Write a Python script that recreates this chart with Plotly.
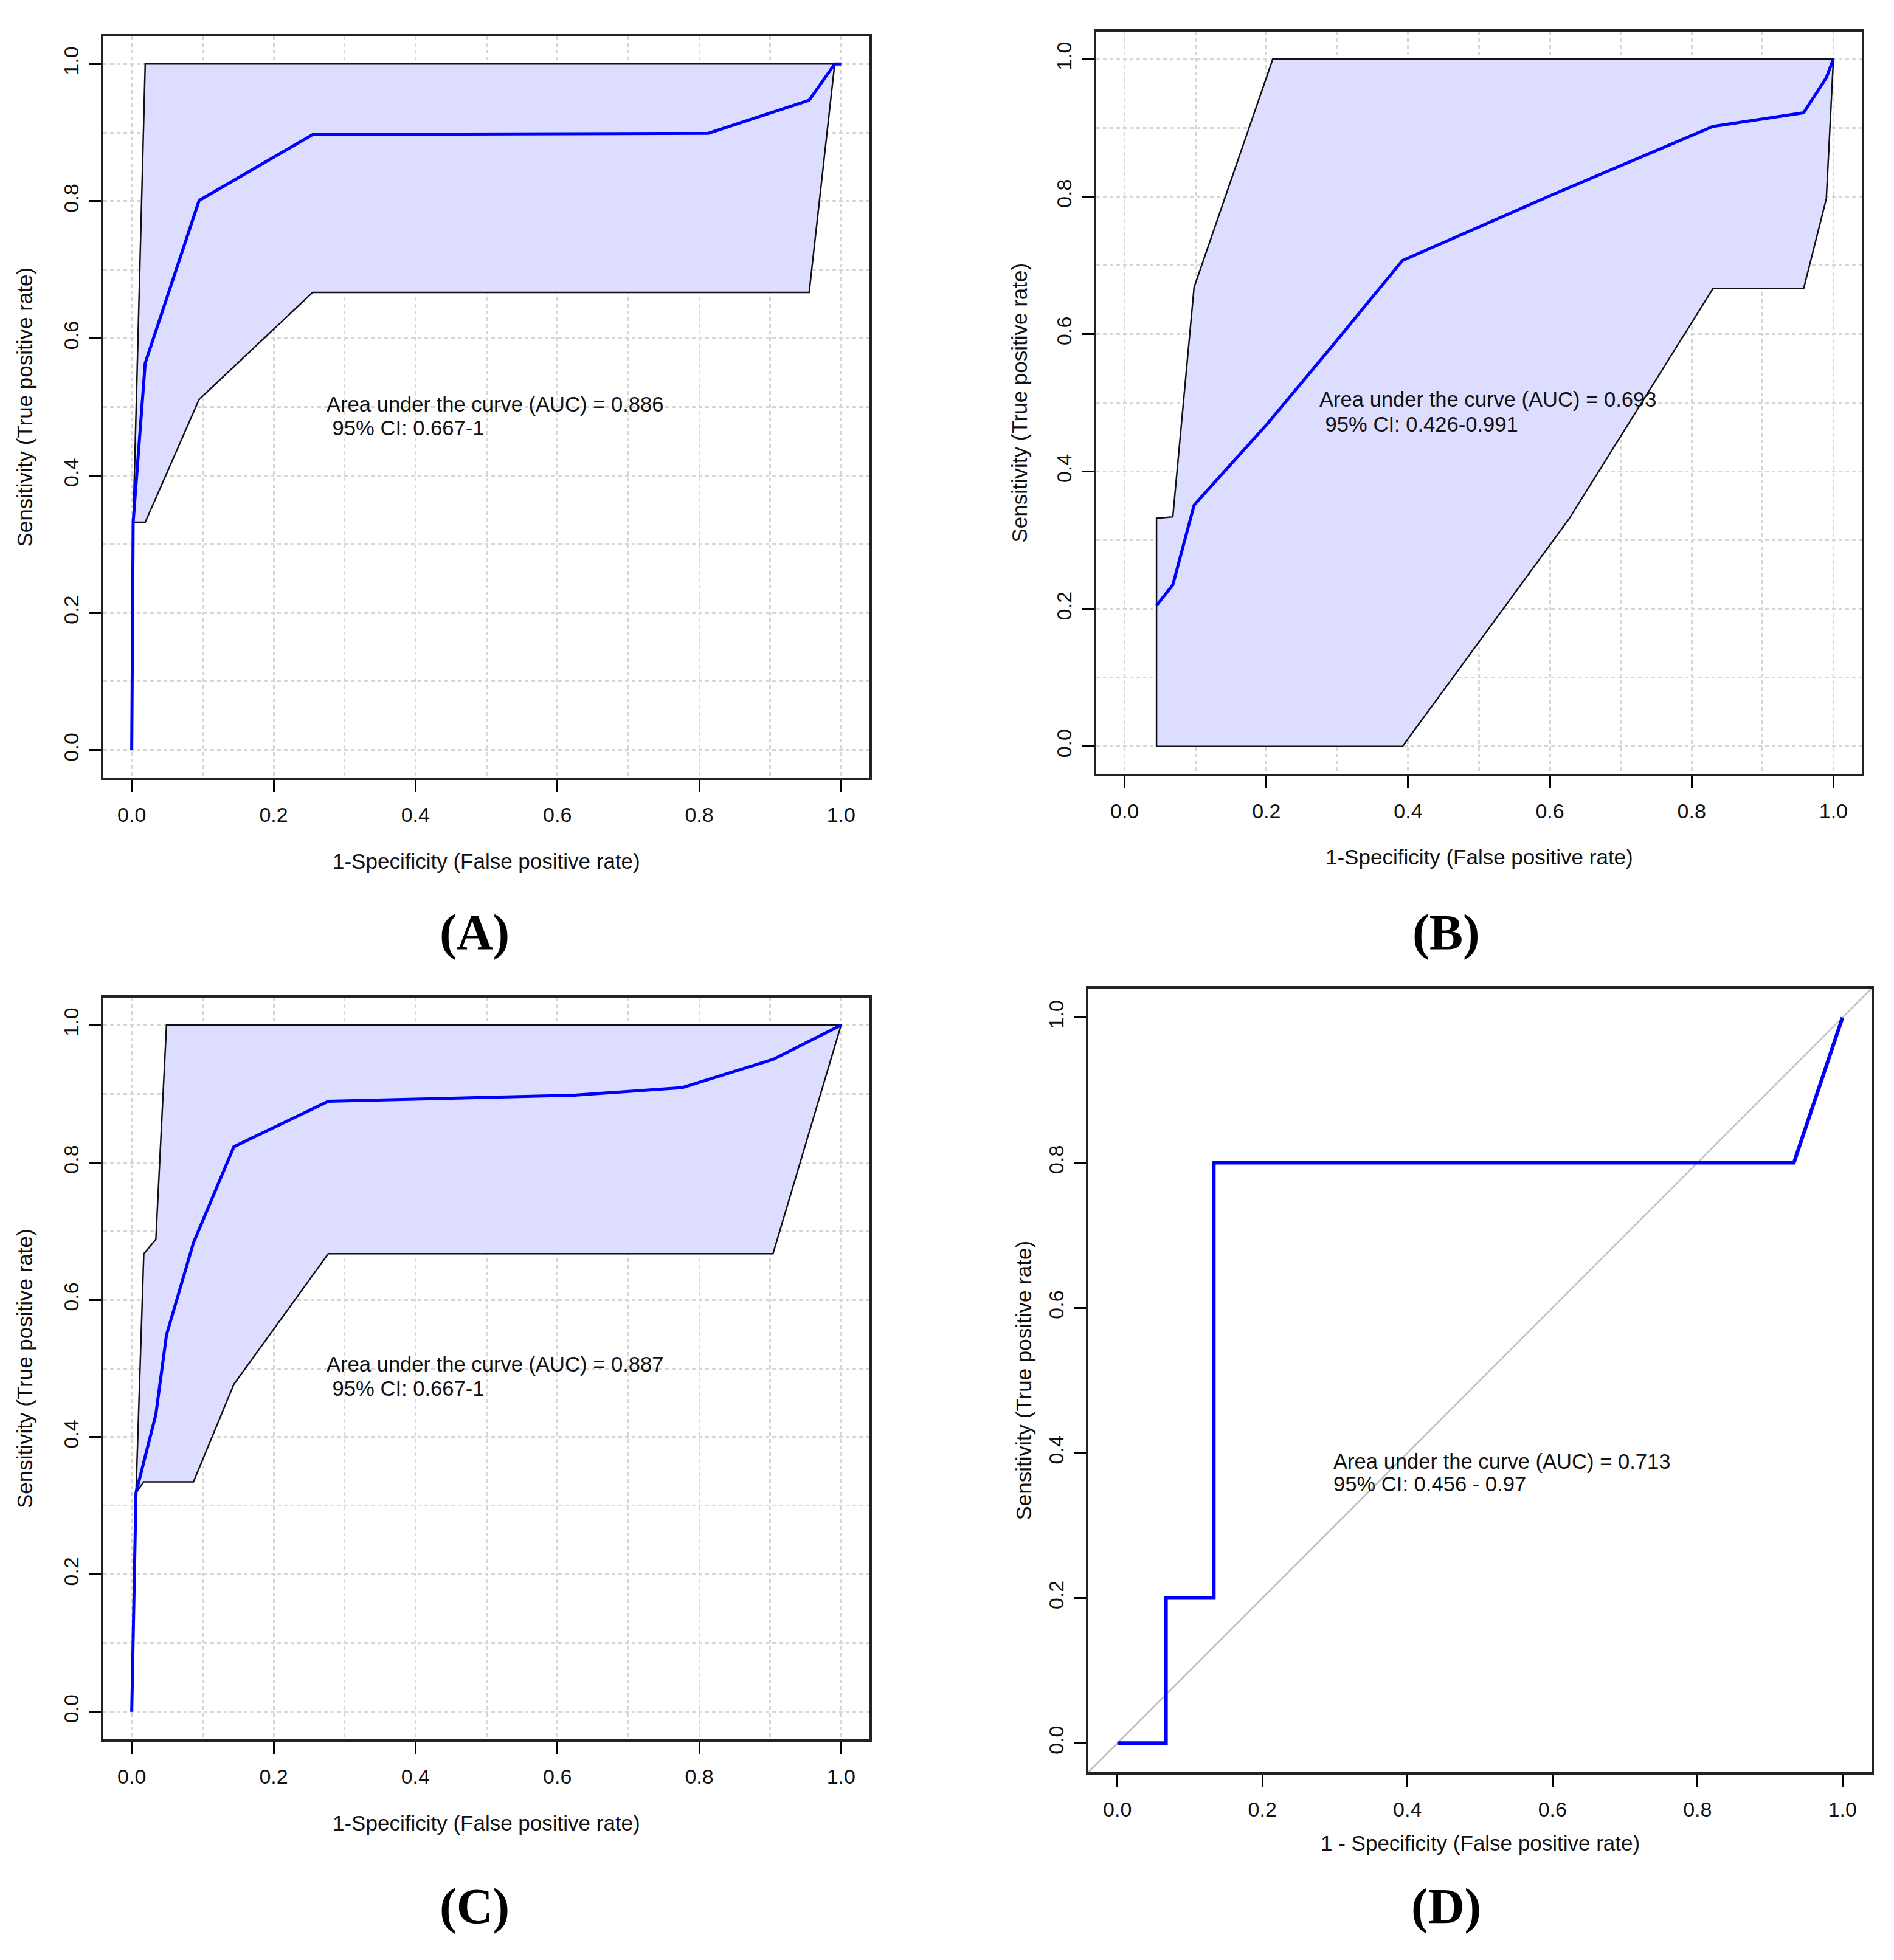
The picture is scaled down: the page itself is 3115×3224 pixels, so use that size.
import plotly.graph_objects as go

W, H = 3115, 3224

# ---- data ----
panels = ["A", "B", "C", "D"]

a_fpr = [0.0, 0.002, 0.019, 0.095, 0.255, 0.813, 0.955, 0.991, 1.0]
a_tpr = [0.0, 0.332, 0.564, 0.801, 0.897, 0.899, 0.947, 1.0, 1.0]
a_up_x = [0.002, 0.019, 1.0]
a_up_y = [0.332, 1.0, 1.0]
a_lo_x = [0.002, 0.019, 0.095, 0.255, 0.955, 0.991, 1.0]
a_lo_y = [0.332, 0.332, 0.511, 0.667, 0.667, 1.0, 1.0]

b_fpr = [0.045, 0.068, 0.098, 0.201, 0.294, 0.392, 0.602, 0.830, 0.958, 0.990, 1.0]
b_tpr = [0.205, 0.235, 0.351, 0.469, 0.584, 0.707, 0.802, 0.902, 0.922, 0.973, 1.0]
b_up_x = [0.045, 0.045, 0.068, 0.098, 0.209, 1.0]
b_up_y = [0.0, 0.332, 0.334, 0.668, 1.0, 1.0]
b_lo_x = [0.045, 0.392, 0.627, 0.830, 0.958, 0.990, 1.0]
b_lo_y = [0.0, 0.0, 0.331, 0.666, 0.666, 0.797, 1.0]

c_fpr = [0.0, 0.006, 0.034, 0.049, 0.087, 0.144, 0.277, 0.624, 0.776, 0.904, 1.0]
c_tpr = [0.0, 0.319, 0.433, 0.549, 0.683, 0.823, 0.889, 0.898, 0.909, 0.950, 1.0]
c_up_x = [0.006, 0.017, 0.034, 0.049, 1.0]
c_up_y = [0.319, 0.667, 0.688, 1.0, 1.0]
c_lo_x = [0.006, 0.017, 0.087, 0.144, 0.277, 0.904, 1.0]
c_lo_y = [0.319, 0.335, 0.335, 0.477, 0.667, 0.667, 1.0]

d_fpr = [0.0, 0.067, 0.067, 0.133, 0.133, 0.933, 1.0]
d_tpr = [0.0, 0.0, 0.2, 0.2, 0.8, 0.8, 1.0]

auc_lines = [
    ["Area under the curve (AUC) = 0.886", " 95% CI: 0.667-1"],
    ["Area under the curve (AUC) = 0.693", " 95% CI: 0.426-0.991"],
    ["Area under the curve (AUC) = 0.887", " 95% CI: 0.667-1"],
    ["Area under the curve (AUC) = 0.713", "95% CI: 0.456 - 0.97"],
]
auc_pos = [(0.273, 0.504, 0.469), (0.273, 0.505, 0.469),
           (0.273, 0.506, 0.471), (0.296, 0.388, 0.357)]

x_titles = ["1-Specificity (False positive rate)"] * 3 + ["1 - Specificity (False positive rate)"]
y_title = "Sensitivity (True positive rate)"

tick_vals = [0.0, 0.2, 0.4, 0.6, 0.8, 1.0]
tick_text = ["0.0", "0.2", "0.4", "0.6", "0.8", "1.0"]

# plot boxes in pixels: left, right, top, bottom
boxes = [(170, 1430, 60, 1279), (1803, 3062, 52, 1273),
         (170, 1430, 1641, 2861), (1790, 3078, 1626, 2915)]
xt_off = [137, 137, 137, 116]     # box bottom -> x title centre
yt_off = [130, 127, 130, 107]     # box left -> y title centre
label_pos = [(780, 1533), (2378, 1533), (780, 3135), (2378, 3135)]

BLUE = "#0000ff"
FILL = "rgba(221,221,255,1)"
FONT = "Liberation Sans"

fig = go.Figure()

bands = [(a_up_x, a_up_y, a_lo_x, a_lo_y), (b_up_x, b_up_y, b_lo_x, b_lo_y),
         (c_up_x, c_up_y, c_lo_x, c_lo_y)]
curves = [(a_fpr, a_tpr), (b_fpr, b_tpr), (c_fpr, c_tpr), (d_fpr, d_tpr)]

for i in range(4):
    xa = "x" if i == 0 else "x%d" % (i + 1)
    ya = "y" if i == 0 else "y%d" % (i + 1)
    if i < 3:
        ux, uy, lx, ly = bands[i]
        fig.add_trace(go.Scatter(x=ux + lx[::-1], y=uy + ly[::-1], mode="lines",
                                 fill="toself", fillcolor=FILL,
                                 line=dict(color="#111", width=2.5),
                                 xaxis=xa, yaxis=ya, showlegend=False))
    fx, fy = curves[i]
    fig.add_trace(go.Scatter(x=fx, y=fy, mode="lines",
                             line=dict(color=BLUE, width=5 if i < 3 else 6),
                             xaxis=xa, yaxis=ya, showlegend=False))

layout = dict(width=W, height=H, margin=dict(l=0, r=0, t=0, b=0),
              paper_bgcolor="white", plot_bgcolor="white", showlegend=False,
              font=dict(family=FONT, color="black"))

annotations = []
shapes = []
for i, (l, r, t, b) in enumerate(boxes):
    grid = i < 3
    sfx = "" if i == 0 else str(i + 1)
    common = dict(range=[-0.04, 1.04], tickvals=tick_vals, ticktext=tick_text,
                  ticks="outside", ticklen=20, tickwidth=3, tickcolor="black",
                  showline=True, linewidth=3.5, linecolor="#222", mirror=True,
                  showgrid=grid, gridcolor="#d6d6d6", gridwidth=2.5, griddash="6px,5px",
                  zeroline=False, tickfont=dict(size=34, family=FONT, color="#111"),
                  minor=dict(dtick=0.1, tick0=0, showgrid=grid, gridcolor="#d6d6d6",
                             gridwidth=2.5, griddash="6px,5px", ticks=""))
    layout["xaxis" + sfx] = dict(common, domain=[l / W, r / W],
                                 anchor="y" + sfx, ticklabelstandoff=8)
    layout["yaxis" + sfx] = dict(common, domain=[1 - b / H, 1 - t / H],
                                 anchor="x" + sfx, tickangle=-90, ticklabelstandoff=4)
    # axis titles
    annotations.append(dict(text=x_titles[i], xref="paper", yref="paper",
                            x=(l + r) / 2 / W, y=1 - (b + xt_off[i]) / H,
                            showarrow=False, xanchor="center", yanchor="middle",
                            font=dict(size=35, family=FONT, color="#111")))
    annotations.append(dict(text=y_title, xref="paper", yref="paper", textangle=-90,
                            x=(l - yt_off[i]) / W, y=1 - (t + b) / 2 / H,
                            showarrow=False, xanchor="center", yanchor="middle",
                            font=dict(size=35, family=FONT, color="#111")))
    # AUC text
    ax, ay1, ay2 = auc_pos[i]
    for txt, yy in zip(auc_lines[i], (ay1, ay2)):
        annotations.append(dict(text=txt.replace(" ", "&nbsp;", 1) if txt.startswith(" ") else txt,
                                xref="x" + sfx, yref="y" + sfx, x=ax, y=yy,
                                showarrow=False, xanchor="left", yanchor="middle",
                                font=dict(size=34.6, family=FONT, color="#111")))
    # panel letter
    lx, ly = label_pos[i]
    annotations.append(dict(text="<b>(%s)</b>" % panels[i], xref="paper", yref="paper",
                            x=lx / W, y=1 - ly / H, showarrow=False,
                            xanchor="center", yanchor="middle",
                            font=dict(size=83, family="Liberation Serif", color="black")))

# diagonal reference line on panel D (abline 0,1 over the full box)
shapes.append(dict(type="line", xref="x4 domain", yref="y4 domain", x0=0, y0=0, x1=1, y1=1,
                   line=dict(color="#bebebe", width=2.5), layer="below"))

layout["annotations"] = annotations
layout["shapes"] = shapes
fig.update_layout(**layout)

# drop the default 8px page margin so the figure sits at the window origin
fig.write_html("out.html", config={"displayModeBar": False},
               post_script="document.body.style.margin='0px';")
